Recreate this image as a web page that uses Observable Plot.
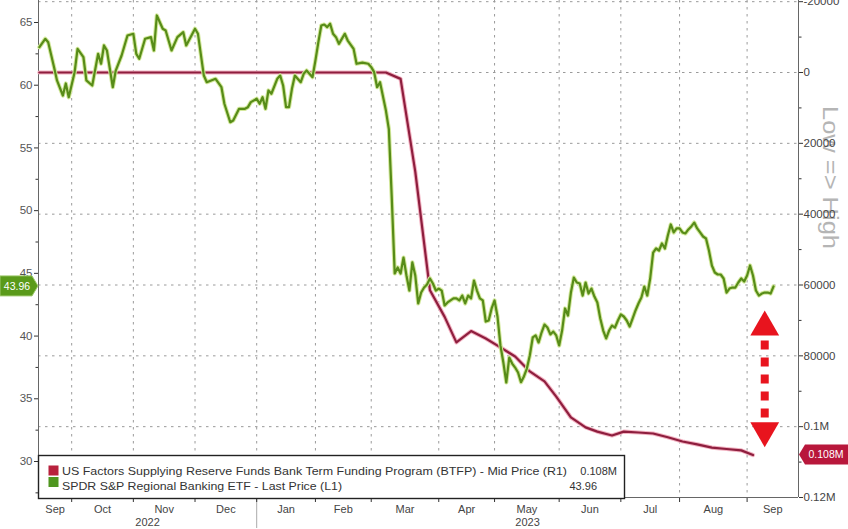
<!DOCTYPE html>
<html><head><meta charset="utf-8">
<script src="https://cdn.jsdelivr.net/npm/d3@7"></script>
<script src="https://cdn.jsdelivr.net/npm/@observablehq/plot@0.6"></script>
<style>
body{margin:0;background:#fff;}
#chart{width:848px;height:529px;overflow:hidden;}
</style></head><body><div id="chart"></div>
<script>
// ---------- data ----------
const holidays = ["2022-11-24","2022-12-26","2023-01-02","2023-01-16","2023-02-20","2023-04-07","2023-05-29","2023-06-19","2023-07-04","2023-09-04"];
const monthLabels = ["Sep","Oct","Nov","Dec","Jan","Feb","Mar","Apr","May","Jun","Jul","Aug","Sep"];
const yearLabels = ["2022","2023"];
const leftTicks = [30,35,40,45,50,55,60,65];
const leftMinorTicks = [27.5,32.5,37.5,42.5,47.5,52.5,57.5,62.5];
const rightTicks = [-20000,0,20000,40000,60000,80000,100000,120000];
const rightTickLabels = ["-20000","0","20000","40000","60000","80000","0.1M","0.12M"];
const rightMinorTicks = [-10000,10000,30000,50000,70000,90000,110000];

// SPDR S&P Regional Banking ETF (L1), Sep 2022 - Mar 10 2023
const etfSparseDates = ["2022-09-16","2022-09-20","2022-09-21","2022-09-23","2022-09-26","2022-09-28","2022-09-29","2022-09-30",
"2022-10-04","2022-10-05","2022-10-07","2022-10-10","2022-10-12","2022-10-14","2022-10-17","2022-10-18","2022-10-19","2022-10-21","2022-10-24","2022-10-26","2022-10-28",
"2022-11-01","2022-11-02","2022-11-03","2022-11-07","2022-11-09","2022-11-10","2022-11-11","2022-11-15","2022-11-16","2022-11-18","2022-11-22","2022-11-25","2022-11-28",
"2022-12-01","2022-12-02","2022-12-06","2022-12-07","2022-12-12","2022-12-14","2022-12-15","2022-12-19","2022-12-20","2022-12-22","2022-12-27","2022-12-28","2022-12-29",
"2023-01-03","2023-01-04","2023-01-05","2023-01-06","2023-01-09","2023-01-10","2023-01-12","2023-01-13","2023-01-17","2023-01-18","2023-01-19","2023-01-20","2023-01-23","2023-01-25","2023-01-26","2023-01-27","2023-01-31",
"2023-02-01","2023-02-02","2023-02-03","2023-02-06","2023-02-07","2023-02-08","2023-02-09","2023-02-10","2023-02-13","2023-02-15","2023-02-16","2023-02-21","2023-02-22","2023-02-24","2023-02-28",
"2023-03-01","2023-03-02","2023-03-03","2023-03-06","2023-03-08","2023-03-09","2023-03-10"];
const etfSparseValues = [63.03,63.70,63.43,61.44,60.38,59.18,60.14,59.04,
61.04,62.90,62.23,60.38,59.98,62.50,61.71,63.17,62.77,59.84,61.17,62.37,63.96,
64.10,62.50,62.11,63.70,63.83,62.77,65.56,64.50,64.36,62.77,63.83,64.23,63.17,
64.50,64.10,60.77,60.24,60.51,59.84,58.52,57.05,57.19,58.12,58.12,58.25,58.65,
58.92,58.52,59.04,58.12,59.58,59.32,60.51,60.77,59.98,58.25,58.25,59.71,60.77,60.24,60.91,61.17,60.64,
61.97,63.43,64.76,64.84,64.63,64.90,64.10,63.83,63.30,64.10,63.56,62.90,61.71,61.80,61.71,
61.44,61.04,59.84,60.24,57.98,56.50,51.00];
// daily closes, one per trading day from 2023-03-13
const etfDailyStart = "2023-03-13";
const etfDailyValues = [44.99,45.47,44.99,46.26,44.83,43.63,45.87,44.83,42.60,43.47,
43.87,44.11,44.59,44.19,43.63,43.79,43.63,42.44,42.68,42.84,
43.00,43.00,42.84,43.23,42.60,43.23,43.00,44.43,43.63,43.00,
42.84,41.16,41.24,42.20,42.84,41.56,39.25,37.89,36.30,38.29,
37.81,37.49,37.10,36.32,36.78,37.41,38.45,39.89,40.05,39.49,
40.28,40.92,40.68,40.13,40.36,40.05,39.25,40.44,42.20,41.64,
43.47,44.67,44.27,44.19,43.23,44.27,43.39,43.79,43.15,42.68,
41.40,40.44,39.81,40.44,40.84,40.68,41.24,41.72,41.56,41.24,
40.76,41.40,42.04,42.60,43.07,43.95,43.23,44.59,46.66,46.98,
46.82,47.38,46.98,48.02,48.90,48.26,48.58,48.58,48.26,48.18,
48.50,48.74,49.05,48.58,48.26,47.94,47.78,46.82,45.63,45.07,
44.91,44.91,44.59,43.47,43.79,43.87,43.87,44.27,44.59,44.35,
44.83,45.63,44.83,43.63,43.23,43.39,43.47,43.47,43.39,43.96];

// BTFP (R1), weekly
const btfpDates = ["2022-09-16","2023-03-08","2023-03-15","2023-03-22","2023-03-29","2023-04-05","2023-04-12","2023-04-19","2023-04-26",
"2023-05-03","2023-05-10","2023-05-17","2023-05-24","2023-05-31","2023-06-07","2023-06-14","2023-06-21","2023-06-28",
"2023-07-05","2023-07-12","2023-07-19","2023-07-26","2023-08-02","2023-08-09","2023-08-16","2023-08-23","2023-08-30","2023-09-06"];
const btfpValues = [0,0,1800,28000,61500,69000,76200,73000,75100,
77600,80200,84400,87200,91500,97400,100200,101400,102500,
101400,101650,101930,103000,104200,105000,105900,106300,106700,108000];

const seriesNames = ["US Factors Supplying Reserve Funds Bank Term Funding Program (BTFP) - Mid Price (R1)",
                     "SPDR S&P Regional Banking ETF - Last Price (L1)"];
// annotation (double arrow)
const arrowDate = "2023-09-12";
const arrowUpAt = 40.71, arrowDownAt = 32.47, arrowShaft = [39.65, 33.5];

// ---------- calendar (trading-day axis) ----------
const fmt = d3.utcFormat("%Y-%m-%d");
const hol = new Set(holidays);
const tradingDays = [];
for (let t = Date.UTC(2022,8,16); t <= Date.UTC(2023,8,29); t += 86400000) {
  const d = new Date(t), w = d.getUTCDay(), s = fmt(d);
  if (w === 0 || w === 6 || hol.has(s)) continue;
  tradingDays.push(s);
}
const dayIndex = new Map(tradingDays.map((s, i) => [s, i]));
const xDomain = [-0.3, 258.5];
const monthStarts = [];
for (let i = 1; i < tradingDays.length; i++)
  if (tradingDays[i].slice(5,7) !== tradingDays[i-1].slice(5,7) && i < xDomain[1]) monthStarts.push(i);
const bounds = [xDomain[0], ...monthStarts, xDomain[1]];
const monthMids = bounds.slice(0, -1).map((b, i) => (b + bounds[i+1]) / 2);
const yearStart = tradingDays.findIndex(s => s.startsWith("2023"));
const yearMids = [(xDomain[0] + yearStart) / 2, (yearStart + xDomain[1]) / 2];

// right (inverted) axis mapped into left units
const toLeft = b => 61.0133 - b * 0.000282362;
const yDomain = [27.13, 66.754];

const etf = etfSparseDates.map((d, i) => ({x: dayIndex.get(d), y: etfSparseValues[i]}));
const s0 = dayIndex.get(etfDailyStart);
etfDailyValues.forEach((v, i) => etf.push({x: s0 + i, y: v}));
const btfp = btfpDates.map((d, i) => ({x: dayIndex.get(d), y: toLeft(btfpValues[i])}));
const ax = dayIndex.get(arrowDate);

const rightTicksL = rightTicks.map(toLeft);
const grid = {stroke: "#9a9a9a", strokeOpacity: 1, strokeDasharray: "2.5,4.5"};
const red = "#e8141e";
const triDown = {draw(ctx, size) { const y = Math.sqrt(size / (3 * Math.sqrt(3))); ctx.moveTo(0, 2*y); ctx.lineTo(-Math.sqrt(3)*y, -y); ctx.lineTo(Math.sqrt(3)*y, -y); ctx.closePath(); }};

const plot = Plot.plot({
  width: 848, height: 529,
  marginLeft: 38, marginRight: 50, marginTop: 0, marginBottom: 32,
  style: {fontFamily: "'Liberation Sans', Arial, sans-serif", fontSize: "11px", color: "#333", background: "#fff"},
  x: {type: "linear", domain: xDomain, axis: null},
  y: {domain: yDomain, axis: null},
  marks: [
    Plot.gridX(monthStarts, grid),
    Plot.gridY(rightTicksL, grid),
    Plot.text(["Low => High"], {frameAnchor: "right", dx: 32, rotate: 90, fontSize: 22, fill: "#b5b5b5"}),
    Plot.axisY(leftTicks, {anchor: "left", label: null, tickSize: 4, tickPadding: 2, fontSize: 11.5, fill: "#555", stroke: "#333"}),
    Plot.axisY(leftMinorTicks, {anchor: "left", label: null, tickSize: 2.5, tickFormat: () => "", stroke: "#333"}),
    Plot.axisY(rightTicksL, {anchor: "right", label: null, tickSize: 4, tickPadding: 1, fontSize: 11.5, fill: "#444", stroke: "#333",
      tickFormat: d => rightTickLabels[rightTicksL.indexOf(d)]}),
    Plot.axisY(rightMinorTicks.map(toLeft), {anchor: "right", label: null, tickSize: 2.5, tickFormat: () => "", stroke: "#333"}),
    Plot.axisX([yearStart], {anchor: "bottom", label: null, tickSize: 31, tickFormat: () => "", stroke: "#aaa"}),
    Plot.axisX(monthStarts, {anchor: "bottom", label: null, tickSize: 5, tickFormat: () => "", stroke: "#333"}),
    Plot.axisX(monthMids, {anchor: "bottom", label: null, tickSize: 0, tickPadding: 8, fontSize: 11, fill: "#444",
      tickFormat: d => monthLabels[monthMids.indexOf(d)]}),
    Plot.axisX(yearMids, {anchor: "bottom", label: null, tickSize: 0, tickPadding: 21, fontSize: 11, fill: "#444",
      tickFormat: d => yearLabels[yearMids.indexOf(d)]}),
    Plot.ruleX([xDomain[0]], {stroke: "#666"}),
    Plot.ruleX([xDomain[1]], {stroke: "#666"}),
    Plot.ruleY([yDomain[0]], {stroke: "#666"}),
    Plot.line(btfp, {x: "x", y: "y", stroke: "#f2b3c2", strokeWidth: 4.2}),
    Plot.line(btfp, {x: "x", y: "y", stroke: "#8e1e3e", strokeWidth: 2.2}),
    Plot.line(etf, {x: "x", y: "y", stroke: "#d3e89c", strokeWidth: 4.2}),
    Plot.line(etf, {x: "x", y: "y", stroke: "#578c18", strokeWidth: 2.2}),
    Plot.line(arrowShaft.map(v => ({x: ax, y: v})), {x: "x", y: "y", stroke: red, strokeWidth: 8, strokeDasharray: "9,8", strokeLinecap: "butt"}),
    Plot.dot([{x: ax, y: arrowUpAt}], {x: "x", y: "y", symbol: "triangle", r: 10.7, fill: red, stroke: null}),
    Plot.dot([{x: ax, y: arrowDownAt}], {x: "x", y: "y", symbol: triDown, r: 10.7, fill: red, stroke: null})
  ]
});

// ---------- tags & legend drawn with the plot's own scales ----------
const svg = d3.select(plot);
svg.selectAll("text").filter(function(){ return this.textContent === "Low => High"; }).attr("textLength", 143).attr("lengthAdjust", "spacingAndGlyphs");
const ys = plot.scale("y");
const etfLast = etfDailyValues[etfDailyValues.length - 1];
const btfpLast = btfpValues[btfpValues.length - 1];
const etfLabel = etfLast.toFixed(2), btfpLabel = (btfpLast / 1e6).toFixed(3) + "M";

const gy = ys.apply(etfLast);
svg.append("polygon").attr("points", `0,${gy-10} 32,${gy-10} 38,${gy} 32,${gy+10} 0,${gy+10}`).attr("fill", "#5a9a1a").attr("stroke", "#9cc86a").attr("stroke-width", 1);
svg.append("text").attr("x", 17).attr("y", gy).attr("dy", "0.35em").attr("text-anchor", "middle").attr("fill", "#fff").attr("font-size", 10.5).text(etfLabel);

const ry = ys.apply(toLeft(btfpLast));
svg.append("polygon").attr("points", `799,${ry} 805,${ry-10} 848,${ry-10} 848,${ry+10} 805,${ry+10}`).attr("fill", "#b8173b");
svg.append("text").attr("x", 826).attr("y", ry).attr("dy", "0.35em").attr("text-anchor", "middle").attr("fill", "#fff").attr("font-size", 10.5).text(btfpLabel);

const lg = svg.append("g").attr("font-size", 11).attr("fill", "#333").attr("text-anchor", "start");
lg.append("rect").attr("x", 38.5).attr("y", 455.5).attr("width", 586).attr("height", 43).attr("fill", "#fff").attr("stroke", "#222").attr("stroke-width", 1.4);
lg.append("rect").attr("x", 48.5).attr("y", 465.5).attr("width", 10).attr("height", 10).attr("fill", "#b8213d");
lg.append("rect").attr("x", 48.5).attr("y", 477).attr("width", 10).attr("height", 10).attr("fill", "#4f961f");
lg.append("text").attr("x", 62).attr("y", 474.5).attr("text-anchor", "start").attr("textLength", 505).attr("lengthAdjust", "spacingAndGlyphs").text(seriesNames[0]);
lg.append("text").attr("x", 62).attr("y", 489.5).attr("text-anchor", "start").attr("textLength", 280).attr("lengthAdjust", "spacingAndGlyphs").text(seriesNames[1]);
lg.append("text").attr("x", 617).attr("y", 474.5).attr("text-anchor", "end").text(btfpLabel);
lg.append("text").attr("x", 597).attr("y", 489.5).attr("text-anchor", "end").text(etfLabel);

document.getElementById("chart").appendChild(plot);
</script></body></html>
